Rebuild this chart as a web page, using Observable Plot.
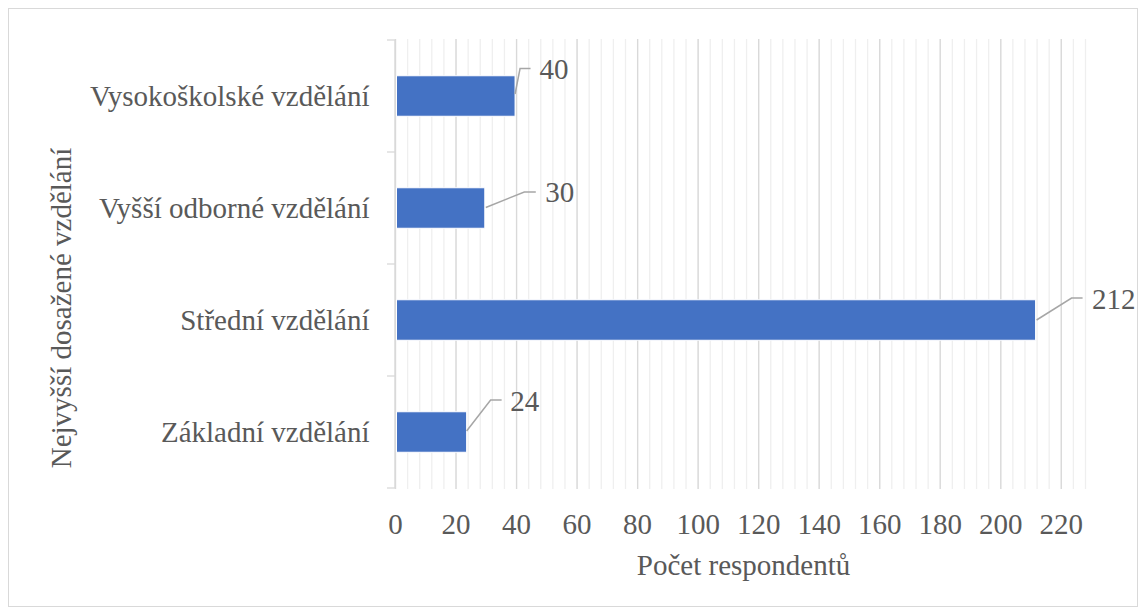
<!DOCTYPE html>
<html>
<head>
<meta charset="utf-8">
<script src="https://cdn.jsdelivr.net/npm/d3@7"></script>
<script src="https://cdn.jsdelivr.net/npm/@observablehq/plot@0.6"></script>
<style>
  html, body { margin: 0; padding: 0; background: #fff; }
  #wrap { position: relative; width: 1139px; height: 608px; }
  #wrap svg { display: block; }
  #wrap svg, #wrap svg text { font-family: "Liberation Serif", "Times New Roman", serif !important; }
  #border { position: absolute; left: 8px; top: 8px; width: 1128px; height: 597px; border: 1px solid #d9d9d9; pointer-events: none; }
</style>
</head>
<body>
<div id="wrap"><div id="border"></div></div>
<script>
// ---- data ----
const categories = ["Vysokoškolské vzdělání", "Vyšší odborné vzdělání", "Střední vzdělání", "Základní vzdělání"];
const counts = [40, 30, 212, 24];
const xTicks = [0, 20, 40, 60, 80, 100, 120, 140, 160, 180, 200, 220];
const xTitle = "Počet respondentů";
const yTitle = "Nejvyšší dosažené vzdělání";

// ---- layout (pixel offsets of data-label leaders, relative to bar end / band centre) ----
const leaderOffsets = [
  {sx: -1, sy: -2, ex: 4, ey: -27.5, hx: 14.5, tx: 23, ty: -27},
  {sx: 0, sy: -0.5, ex: 38.5, ey: -16, hx: 50, tx: 59, ty: -15.5},
  {sx: 0, sy: 0, ex: 35, ey: -22, hx: 46, tx: 55, ty: -21},
  {sx: -1, sy: -1, ex: 23, ey: -32, hx: 34, tx: 42, ty: -30.5}
];

const data = categories.map((c, i) => ({category: c, value: counts[i], i}));
const minorTicks = d3.range(0, 229, 4);

function scaleFn(s, key) {
  const o = s[key];
  if (typeof o === "function") return o;
  if (s.scales && typeof s.scales[key] === "function") return s.scales[key];
  if (o && typeof o.apply === "function") return v => o.apply(v);
}
function bandwidthOf(s, key) {
  const o = s[key];
  if (o && typeof o.bandwidth === "function") return o.bandwidth();
  if (o && typeof o.bandwidth === "number") return o.bandwidth;
  const f = s.scales && s.scales[key];
  if (f && typeof f.bandwidth === "function") return f.bandwidth();
  if (f && typeof f.bandwidth === "number") return f.bandwidth;
  return 0;
}

const FONT = "Liberation Serif";
const TEXT = "#595959";

// y axis line with ticks at band boundaries
function yAxisLine(index, scales, values, dims) {
  const y = scaleFn(scales, "y");
  const x = scaleFn(scales, "x");
  const bw = bandwidthOf(scales, "y");
  const g = d3.create("svg:g");
  const x0 = x(0);
  const bounds = categories.map(c => y(c)).concat([y(categories[categories.length - 1]) + bw]);
  g.append("line").attr("x1", x0).attr("x2", x0)
    .attr("y1", d3.min(bounds)).attr("y2", d3.max(bounds))
    .attr("stroke", "#d9d9d9").attr("stroke-width", 1.3);
  for (const b of bounds) {
    g.append("line").attr("x1", x0 - 8).attr("x2", x0).attr("y1", b).attr("y2", b)
      .attr("stroke", "#d9d9d9").attr("stroke-width", 1.3);
  }
  return g.node();
}

// leader lines for data labels
function leaders(index, scales) {
  const y = scaleFn(scales, "y");
  const x = scaleFn(scales, "x");
  const bw = bandwidthOf(scales, "y");
  const g = d3.create("svg:g").attr("fill", "none").attr("stroke", "#a6a6a6").attr("stroke-width", 1.5);
  data.forEach((d, i) => {
    const o = leaderOffsets[i];
    const xe = x(d.value), yc = y(d.category) + bw / 2;
    g.append("polyline").attr("points",
      [[xe + o.sx, yc + o.sy], [xe + o.ex, yc + o.ey], [xe + o.hx, yc + o.ey]].map(p => p.join(",")).join(" "));
  });
  return g.node();
}

const labelMarks = data.map((d, i) => Plot.text([d], {
  x: "value", y: "category", text: dd => String(dd.value),
  dx: leaderOffsets[i].tx, dy: leaderOffsets[i].ty,
  textAnchor: "start", lineAnchor: "middle", fontSize: 29, fontFamily: FONT, fill: TEXT
}));

const chart = Plot.plot({
  width: 1139,
  height: 608,
  marginLeft: 395,
  marginRight: 54,
  marginTop: 39,
  marginBottom: 119,
  style: {fontFamily: FONT, fontSize: "29px", color: TEXT, background: "transparent"},
  x: {domain: [0, 228]},
  y: {domain: categories, padding: 0},
  marks: [
    Plot.ruleX(minorTicks, {stroke: "#efefef", strokeWidth: 1.3}),
    Plot.ruleX(xTicks, {stroke: "#d9d9d9", strokeWidth: 1.3}),
    yAxisLine,
    Plot.barX(data, {x: "value", y: "category", fill: "#4472C4", stroke: "#fff", strokeWidth: 1,
      insetTop: 35.75, insetBottom: 35.75, insetLeft: 1.5, insetRight: 1}),
    Plot.axisY({tickSize: 0, tickPadding: 26, fontSize: 29, fontFamily: FONT, label: null}),
    Plot.axisX({ticks: xTicks, tickSize: 0, tickPadding: 24, fontSize: 29, fontFamily: FONT, label: null}),
    Plot.text([xTitle], {frameAnchor: "bottom", text: d => d, textAnchor: "middle", lineAnchor: "middle",
      dx: 3, dy: 76, fontSize: 29, fontFamily: FONT, fill: TEXT}),
    Plot.text([yTitle], {frameAnchor: "left", text: d => d, rotate: -90, textAnchor: "middle", lineAnchor: "middle",
      dx: -334, dy: 43.5, fontSize: 29, fontFamily: FONT, fill: TEXT}),
    leaders,
    ...labelMarks
  ]
});
document.getElementById("wrap").prepend(chart);
</script>
</body>
</html>
